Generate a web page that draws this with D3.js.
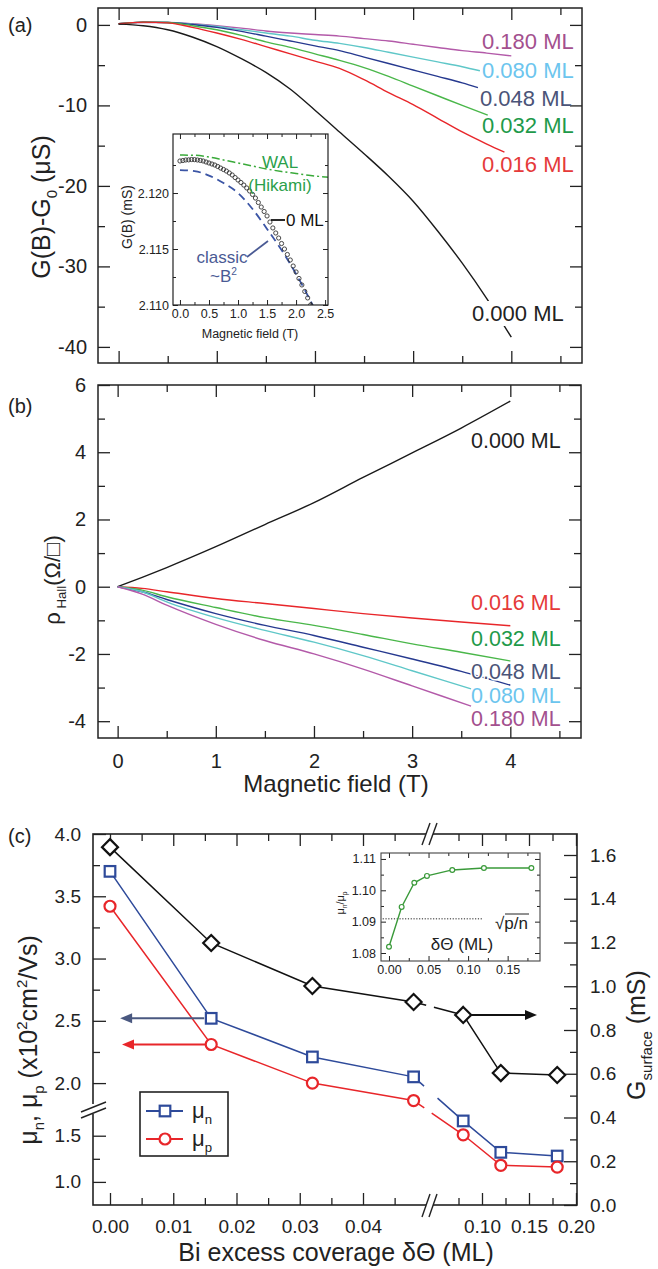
<!DOCTYPE html>
<html><head><meta charset="utf-8">
<script src="https://cdn.jsdelivr.net/npm/d3@7/dist/d3.min.js"></script>
<style>
html,body{margin:0;padding:0;background:#fff;}
svg{display:block;}
</style></head>
<body>
<svg id="fig" width="658" height="1269" xmlns="http://www.w3.org/2000/svg"></svg>
<script>
// ================= DATA =================
// Panel (a): G(B)-G0 (uS) vs magnetic field (T), one pair of arrays per coverage
const fieldA000 = [0,0.25,0.5,0.75,1,1.25,1.5,1.75,2,2.25,2.5,2.75,3,3.25,3.5,3.75,4.0];
const condA000  = [0.1,-0.1,-0.6,-1.5,-2.7,-4.2,-5.9,-8.0,-10.6,-13.3,-16.0,-18.8,-21.9,-25.6,-29.6,-34.0,-38.8];
const fieldA016 = [0,0.25,0.5,0.75,1,1.25,1.5,1.75,2,2.25,2.5,2.75,3,3.25,3.5,3.75,3.93];
const condA016  = [0.15,0.35,0.25,-0.3,-1.0,-1.8,-2.7,-3.6,-4.5,-5.4,-6.8,-8.4,-9.9,-11.6,-13.3,-14.8,-15.8];
const fieldA032 = [0,0.25,0.5,0.75,1,1.25,1.5,1.75,2,2.25,2.5,2.75,3,3.25,3.5,3.76];
const condA032  = [0.15,0.35,0.3,-0.1,-0.6,-1.3,-2.1,-2.8,-3.6,-4.4,-5.3,-6.4,-7.6,-8.8,-10.0,-11.2];
const fieldA048 = [0,0.25,0.5,0.75,1,1.25,1.5,1.75,2,2.25,2.5,2.75,3,3.25,3.5,3.66];
const condA048  = [0.15,0.35,0.3,0.05,-0.3,-0.8,-1.4,-2.0,-2.6,-3.2,-4.0,-4.8,-5.6,-6.4,-7.2,-7.8];
const fieldA080 = [0,0.25,0.5,0.75,1,1.25,1.5,1.75,2,2.25,2.5,2.75,3,3.25,3.5,3.68];
const condA080  = [0.15,0.35,0.3,0.1,-0.2,-0.6,-1.0,-1.4,-1.9,-2.3,-2.8,-3.4,-4.0,-4.6,-5.2,-5.7];
const fieldA180 = [0,0.25,0.5,0.75,1,1.25,1.5,1.75,2,2.25,2.5,2.75,3,3.25,3.5,3.75,4.0];
const condA180  = [0.15,0.3,0.3,0.15,-0.1,-0.4,-0.75,-1.0,-1.2,-1.4,-1.7,-2.0,-2.4,-2.8,-3.2,-3.5,-3.85];
const coverageLabels = ["0.000 ML","0.016 ML","0.032 ML","0.048 ML","0.080 ML","0.180 ML"];
const yTicksA = [0,-10,-20,-30,-40];
const yMinorA = [-5,-15,-25,-35];

// Inset of (a): G(B) (mS) for 0 ML, WAL (Hikami) fit and classic ~B^2
const insetField = [0,0.05,0.1,0.15,0.2,0.25,0.3,0.35,0.4,0.45,0.5,0.55,0.6,0.65,0.7,0.75,0.8,0.85,0.9,0.95,1.0,1.05,1.1,1.15,1.2,1.25,1.3,1.35,1.4,1.45,1.5,1.55,1.6,1.65,1.7,1.75,1.8,1.85,1.9,1.95,2.0,2.05,2.1,2.15,2.2,2.25];
const insetG = [2.12286,2.12290,2.12295,2.12296,2.12299,2.12298,2.12295,2.12291,2.12286,2.12277,2.12268,2.12259,2.12250,2.12237,2.12223,2.12210,2.12196,2.12179,2.12161,2.12138,2.12116,2.12094,2.12071,2.12045,2.12018,2.11987,2.11955,2.11915,2.11875,2.11835,2.11795,2.11741,2.11688,2.11643,2.11598,2.11549,2.11500,2.11451,2.11402,2.11348,2.11295,2.11237,2.11179,2.11121,2.11063,2.11000];
const walField = [0,0.25,0.5,0.75,1.0,1.25,1.5,1.75,2.0,2.25,2.5,2.55];
const walG = [2.12339,2.12337,2.12321,2.12295,2.12268,2.12241,2.12214,2.12192,2.12174,2.12156,2.12143,2.12140];
const classicField = [0,0.25,0.5,0.75,1.0,1.25,1.5,1.75,2.0,2.25,2.3];
const classicG = [2.12205,2.12196,2.12156,2.12089,2.12000,2.11857,2.11679,2.11491,2.11277,2.11036,2.10985];
const insetYTicks = [2.110,2.115,2.120];
const insetYMinor = [2.1125,2.1175,2.1225];
const insetXTicks = [0,0.5,1.0,1.5,2.0,2.5];
const insetXMinor = [0.25,0.75,1.25,1.75,2.25];

// Panel (b): Hall resistivity (Ohm/sq) vs field (T)
const fieldB = [0,0.25,0.5,1,1.5,2,2.5,3,3.5,4];
const hallB000 = [0,0.28,0.57,1.19,1.85,2.5,3.25,3.98,4.72,5.52];
const hallB016 = [0,-0.05,-0.15,-0.35,-0.5,-0.65,-0.8,-0.93,-1.05,-1.16];
const hallB032 = [0,-0.1,-0.3,-0.62,-0.92,-1.15,-1.42,-1.7,-1.95,-2.21];
const hallB048 = [0,-0.15,-0.38,-0.8,-1.15,-1.45,-1.8,-2.15,-2.52,-2.93];
const fieldBshort = [0,0.25,0.5,1,1.5,2,2.5,3,3.6];
const hallB080 = [0,-0.15,-0.45,-0.92,-1.3,-1.65,-2.05,-2.5,-3.04];
const hallB180 = [0,-0.22,-0.55,-1.12,-1.6,-2.0,-2.45,-2.95,-3.55];
const yTicksB = [-4,-2,0,2,4,6];
const yMinorB = [-3,-1,1,3,5];
const xTicksB = [0,1,2,3,4];
const xMinorB = [0.5,1.5,2.5,3.5,4.5];

// Panel (c): mobilities and surface conductance vs Bi excess coverage (ML)
const coverageC = [0,0.016,0.032,0.048,0.08,0.12,0.18];
const gSurface = [1.636,1.198,1.001,0.928,0.869,0.603,0.594];
const muN = [3.70,2.52,2.21,2.05,1.66,1.32,1.28];
const muP = [3.42,2.31,2.00,1.86,1.51,1.18,1.16];
const ratioNP = [1.082,1.0947,1.1024,1.1046,1.1065,1.1071,1.1071];
const sqrtPN = 1.0909;
const yTicksCL = [1.0,1.5,2.0,2.5,3.0,3.5,4.0];
const yMinorCL = [1.25,2.25,2.75,3.25,3.75];
const yTicksCR = [0,0.2,0.4,0.6,0.8,1.0,1.2,1.4,1.6];
const yMinorCR = [0.1,0.3,0.5,0.7,0.9,1.1,1.3,1.5];
const xTicksCL = [0,0.01,0.02,0.03,0.04];
const xMinorCL = [0.005,0.015,0.025,0.035,0.045];
const xTicksCR = [0.10,0.15,0.20];
const xMinorCR = [0.075,0.125,0.175];
const insetCYTicks = [1.08,1.09,1.10,1.11];
const insetCYMinor = [1.085,1.095,1.105];
const insetCXTicks = [0,0.05,0.10,0.15];
const insetCXMinor = [0.025,0.075,0.125,0.175];

// ================= DRAWING =================
const FONT = '"Liberation Sans", Arial, Helvetica, sans-serif';
const INK = "#222";
const svg = d3.select("#fig");
svg.append("rect").attr("width",658).attr("height",1269).attr("fill","#fff");

function mkAxis(parent, gen, tx, ty, fs){
  const g = parent.append("g").attr("transform",`translate(${tx},${ty})`).call(gen);
  g.select(".domain").remove();
  g.selectAll(".tick line").attr("stroke",INK).attr("stroke-width",1.3);
  g.selectAll(".tick text").attr("font-size",fs).attr("font-family",FONT).attr("fill",INK);
  return g;
}
function rich(t, parts, fs){
  let cur = 0;
  parts.forEach(([s,m])=>{
    const target = m==='sub' ? fs*0.28 : (m==='sup' ? -fs*0.42 : 0);
    t.append("tspan").text(s).attr("font-size", m==='n'?fs:fs*0.6).attr("dy", target-cur);
    cur = target;
  });
}
function txt(parent, x, y, s, fs, fill, anchor){
  return parent.append("text").attr("x",x).attr("y",y).text(s)
    .attr("font-family",FONT).attr("font-size",fs).attr("fill",fill||INK)
    .attr("text-anchor",anchor||"start");
}
const fmtPlain = d => String(d);

// ---------- Panel (a) ----------
const xA = d3.scaleLinear().domain([-0.21,4.72]).range([98,582]);
const yA = d3.scaleLinear().domain([-42,2.1]).range([363,8]);
const pA = svg.append("g");
const lineA = d3.line().x(d=>xA(d[0])).y(d=>yA(d[1])).curve(d3.curveMonotoneX);
const seriesA = [
  [fieldA180,condA180,"#b35aa9"],
  [fieldA080,condA080,"#5fc7c8"],
  [fieldA048,condA048,"#26398f"],
  [fieldA032,condA032,"#4ab74a"],
  [fieldA016,condA016,"#e8262a"],
  [fieldA000,condA000,"#1a1a1a"]
];
seriesA.forEach(([f,v,c])=>{
  pA.append("path").datum(d3.zip(f,v)).attr("d",lineA).attr("fill","none").attr("stroke",c).attr("stroke-width",1.4);
});
mkAxis(pA, d3.axisLeft(yA).tickValues(yTicksA).tickSize(-12).tickPadding(11).tickFormat(fmtPlain), 98,0,20);
mkAxis(pA, d3.axisLeft(yA).tickValues(yMinorA).tickSize(-7).tickFormat(""), 98,0,20);
mkAxis(pA, d3.axisRight(yA).tickValues(yTicksA).tickSize(-12).tickFormat(""), 582,0,20);
mkAxis(pA, d3.axisRight(yA).tickValues(yMinorA).tickSize(-7).tickFormat(""), 582,0,20);
mkAxis(pA, d3.axisTop(xA).tickValues(xTicksB).tickSize(-12).tickFormat(""), 0,8,20);
mkAxis(pA, d3.axisTop(xA).tickValues(xMinorB).tickSize(-7).tickFormat(""), 0,8,20);
mkAxis(pA, d3.axisBottom(xA).tickValues(xTicksB).tickSize(-12).tickFormat(""), 0,363,20);
mkAxis(pA, d3.axisBottom(xA).tickValues(xMinorB).tickSize(-7).tickFormat(""), 0,363,20);
pA.append("rect").attr("x",98).attr("y",8).attr("width",484).attr("height",355).attr("fill","none").attr("stroke",INK).attr("stroke-width",1.5);
txt(pA,8,32,"(a)",20);
{
  const t = pA.append("text").attr("transform","translate(50,207) rotate(-90)").attr("text-anchor","middle")
    .attr("font-family",FONT).attr("fill",INK).attr("font-size",25);
  rich(t,[["G(B)-G","n"],["0","sub"],[" (μS)","n"]],25);
}
const labA = [
  [coverageLabels[5],482,49,"#a3508e"],
  [coverageLabels[4],482,78,"#6cc5ee"],
  [coverageLabels[3],480,106,"#4b5478"],
  [coverageLabels[2],482,133,"#1e9a4a"],
  [coverageLabels[1],482,172,"#e53a3a"],
  [coverageLabels[0],472,321,"#222"]
];
labA.forEach(([s,x,y,c],i)=>{
  const t = txt(pA,x,y,s,22,c);
  if(i===5){
    const bb = t.node().getBBox();
    pA.insert("rect", function(){return t.node();}).attr("x",bb.x-2).attr("y",bb.y).attr("width",bb.width+4).attr("height",bb.height).attr("fill","#fff");
  }
});

// ---------- Inset of (a) ----------
const xI = d3.scaleLinear().domain([-0.12,2.55]).range([173,328]);
const yI = d3.scaleLinear().domain([2.110,2.12527]).range([305,134]);
const pI = svg.append("g");
pI.append("rect").attr("x",173).attr("y",134).attr("width",155).attr("height",171).attr("fill","#fff");
svg.append("clipPath").attr("id","clipI").append("rect").attr("x",173).attr("y",134).attr("width",155).attr("height",171);
const gIc = pI.append("g").attr("clip-path","url(#clipI)");
const lineI = d3.line().x(d=>xI(d[0])).y(d=>yI(d[1])).curve(d3.curveMonotoneX);
gIc.append("path").datum(d3.zip(classicField,classicG)).attr("d",lineI).attr("fill","none")
  .attr("stroke","#3b55a5").attr("stroke-width",1.8).attr("stroke-dasharray","8,5");
gIc.append("path").datum(d3.zip(walField,walG)).attr("d",lineI).attr("fill","none")
  .attr("stroke","#3aaa3a").attr("stroke-width",1.5).attr("stroke-dasharray","8,3,2,3");
gIc.selectAll("circle.d").data(d3.zip(insetField,insetG)).enter().append("circle")
  .attr("cx",d=>xI(d[0])).attr("cy",d=>yI(d[1])).attr("r",2.1)
  .attr("fill","none").attr("stroke","#333").attr("stroke-width",0.9);
const f3 = d3.format(".3f"), f1 = d3.format(".1f");
mkAxis(pI, d3.axisLeft(yI).tickValues(insetYTicks).tickSize(-5).tickPadding(4).tickFormat(f3), 173,0,12.5);
mkAxis(pI, d3.axisLeft(yI).tickValues(insetYMinor).tickSize(-3).tickFormat(""), 173,0,12);
mkAxis(pI, d3.axisRight(yI).tickValues(insetYTicks).tickSize(-5).tickFormat(""), 328,0,12);
mkAxis(pI, d3.axisRight(yI).tickValues(insetYMinor).tickSize(-3).tickFormat(""), 328,0,12);
mkAxis(pI, d3.axisBottom(xI).tickValues(insetXTicks).tickSize(-5).tickPadding(4).tickFormat(f1), 0,305,12.5);
mkAxis(pI, d3.axisBottom(xI).tickValues(insetXMinor).tickSize(-3).tickFormat(""), 0,305,12);
mkAxis(pI, d3.axisTop(xI).tickValues(insetXTicks).tickSize(-5).tickFormat(""), 0,134,12);
mkAxis(pI, d3.axisTop(xI).tickValues(insetXMinor).tickSize(-3).tickFormat(""), 0,134,12);
pI.selectAll("line").attr("stroke-width",1);
pI.append("rect").attr("x",173).attr("y",134).attr("width",155).attr("height",171).attr("fill","none").attr("stroke",INK).attr("stroke-width",1.2);
txt(pI,250,338,"Magnetic field (T)",12.5,INK,"middle");
pI.append("text").attr("transform","translate(132,217) rotate(-90)").attr("text-anchor","middle")
  .attr("font-family",FONT).attr("font-size",14).attr("fill",INK).text("G(B) (mS)");
txt(pI,280,168,"WAL",17,"#2aa04a","middle");
txt(pI,280,191,"(Hikami)",17,"#2aa04a","middle");
pI.append("line").attr("x1",271).attr("x2",285).attr("y1",220).attr("y2",220).attr("stroke","#111").attr("stroke-width",1.8);
txt(pI,286,226,"0 ML",17,"#111");
txt(pI,222,263,"classic",17,"#4a5a94","middle");
{
  const t = pI.append("text").attr("x",210).attr("y",282).attr("font-family",FONT).attr("fill","#4a5a94").attr("font-size",17);
  rich(t,[["~B","n"],["2","sup"]],17);
}
pI.append("line").attr("x1",247).attr("y1",257).attr("x2",268).attr("y2",241).attr("stroke","#4a5a94").attr("stroke-width",1.8);

// ---------- Panel (b) ----------
const xB = d3.scaleLinear().domain([-0.2,4.72]).range([98,581]);
const yB = d3.scaleLinear().domain([-4.5,6]).range([738,385]);
const pB = svg.append("g");
const lineB = d3.line().x(d=>xB(d[0])).y(d=>yB(d[1])).curve(d3.curveMonotoneX);
const seriesB = [
  [fieldB,hallB000,"#1a1a1a"],
  [fieldB,hallB016,"#e8262a"],
  [fieldB,hallB032,"#4ab74a"],
  [fieldB,hallB048,"#26398f"],
  [fieldBshort,hallB080,"#5fc7c8"],
  [fieldBshort,hallB180,"#b35aa9"]
];
seriesB.forEach(([f,v,c])=>{
  pB.append("path").datum(d3.zip(f,v)).attr("d",lineB).attr("fill","none").attr("stroke",c).attr("stroke-width",1.4);
});
mkAxis(pB, d3.axisLeft(yB).tickValues(yTicksB).tickSize(-12).tickPadding(12).tickFormat(fmtPlain), 98,0,20);
mkAxis(pB, d3.axisLeft(yB).tickValues(yMinorB).tickSize(-7).tickFormat(""), 98,0,20);
mkAxis(pB, d3.axisRight(yB).tickValues(yTicksB).tickSize(-12).tickFormat(""), 581,0,20);
mkAxis(pB, d3.axisRight(yB).tickValues(yMinorB).tickSize(-7).tickFormat(""), 581,0,20);
mkAxis(pB, d3.axisTop(xB).tickValues(xTicksB).tickSize(-12).tickFormat(""), 0,385,20);
mkAxis(pB, d3.axisTop(xB).tickValues(xMinorB).tickSize(-7).tickFormat(""), 0,385,20);
mkAxis(pB, d3.axisBottom(xB).tickValues(xTicksB).tickSize(-12).tickPadding(16).tickFormat(fmtPlain), 0,738,20);
mkAxis(pB, d3.axisBottom(xB).tickValues(xMinorB).tickSize(-7).tickFormat(""), 0,738,20);
pB.append("rect").attr("x",98).attr("y",385).attr("width",483).attr("height",353).attr("fill","none").attr("stroke",INK).attr("stroke-width",1.5);
txt(pB,8,413,"(b)",20);
txt(pB,336,792,"Magnetic field (T)",24,INK,"middle");
{
  const t = pB.append("text").attr("transform","translate(60,580) rotate(-90)").attr("text-anchor","middle")
    .attr("font-family",FONT).attr("fill",INK).attr("font-size",22);
  rich(t,[["ρ","n"],[" Hall","sub"],["(Ω/□)","n"]],22);
}
const labB = [
  [coverageLabels[0],471,448,"#222"],
  [coverageLabels[1],471,610,"#e53a3a"],
  [coverageLabels[2],471,646,"#1e9a4a"],
  [coverageLabels[3],471,679,"#4b5478"],
  [coverageLabels[4],471,703,"#6cc5ee"],
  [coverageLabels[5],471,726,"#a3508e"]
];
labB.forEach(([s,x,y,c])=>{
  txt(pB,x,y,s,21.5,c).attr("stroke","#fff").attr("stroke-width",3).attr("paint-order","stroke");
});

// ---------- Panel (c) ----------
const xcL = d3.scaleLinear().domain([0,0.04]).range([110,363]);
const xcR = d3.scaleLinear().domain([0.10,0.20]).range([482,576]);
const xc = v => v < 0.06 ? xcL(v) : xcR(v);
const ycL = d3.scaleLinear().domain([0.75,1.8,4.0]).range([1205,1108,834]);
const ycR = d3.scaleLinear().domain([0,1.6]).range([1205,855]);
const pC = svg.append("g");
const f2 = d3.format(".2f");
mkAxis(pC, d3.axisLeft(ycL).tickValues(yTicksCL).tickSize(-13).tickPadding(12).tickFormat(f1), 93,0,19);
mkAxis(pC, d3.axisLeft(ycL).tickValues(yMinorCL).tickSize(-7).tickFormat(""), 93,0,19);
mkAxis(pC, d3.axisRight(ycR).tickValues(yTicksCR).tickSize(-13).tickPadding(13).tickFormat(f1), 577,0,19);
mkAxis(pC, d3.axisRight(ycR).tickValues(yMinorCR).tickSize(-7).tickFormat(""), 577,0,19);
mkAxis(pC, d3.axisBottom(xcL).tickValues(xTicksCL).tickSize(-12).tickPadding(15).tickFormat(f2), 0,1205,19);
mkAxis(pC, d3.axisBottom(xcL).tickValues(xMinorCL).tickSize(-7).tickFormat(""), 0,1205,19);
mkAxis(pC, d3.axisBottom(xcR).tickValues(xTicksCR).tickSize(-12).tickPadding(15).tickFormat(f2), 0,1205,19);
mkAxis(pC, d3.axisBottom(xcR).tickValues(xMinorCR).tickSize(-7).tickFormat(""), 0,1205,19);
mkAxis(pC, d3.axisTop(xcL).tickValues(xTicksCL).tickSize(-12).tickFormat(""), 0,834,19);
mkAxis(pC, d3.axisTop(xcL).tickValues(xMinorCL).tickSize(-7).tickFormat(""), 0,834,19);
mkAxis(pC, d3.axisTop(xcR).tickValues(xTicksCR).tickSize(-12).tickFormat(""), 0,834,19);
mkAxis(pC, d3.axisTop(xcR).tickValues(xMinorCR).tickSize(-7).tickFormat(""), 0,834,19);
pC.append("rect").attr("x",93).attr("y",834).attr("width",484).attr("height",371).attr("fill","none").attr("stroke",INK).attr("stroke-width",1.6);
function brk(x1,y1,x2,y2,dx,dy,wx,wy,ww,wh){
  pC.append("rect").attr("x",wx).attr("y",wy).attr("width",ww).attr("height",wh).attr("fill","#fff");
  [0,1].forEach(k=>pC.append("line").attr("x1",x1+k*dx).attr("y1",y1+k*dy).attr("x2",x2+k*dx).attr("y2",y2+k*dy)
    .attr("stroke",INK).attr("stroke-width",1.4));
}
brk(422,845,430,823,7,0,426,831,7,6);
brk(422,1217,430,1194,7,0,426,1202,7,6);
brk(81,1118,106,1108,0,-6,90,1104,6,10);

// inset of (c)
const xIC = d3.scaleLinear().domain([-0.0101,0.1909]).range([381,540]);
const yIC = d3.scaleLinear().domain([1.07745,1.1119]).range([961,853]);
const pIC = svg.append("g");
pIC.append("rect").attr("x",381).attr("y",853).attr("width",159).attr("height",108).attr("fill","#fff");
mkAxis(pIC, d3.axisLeft(yIC).tickValues(insetCYTicks).tickSize(-5).tickPadding(5).tickFormat(f2), 381,0,12.5);
mkAxis(pIC, d3.axisLeft(yIC).tickValues(insetCYMinor).tickSize(-3).tickFormat(""), 381,0,12);
mkAxis(pIC, d3.axisRight(yIC).tickValues(insetCYTicks).tickSize(-5).tickFormat(""), 540,0,12);
mkAxis(pIC, d3.axisRight(yIC).tickValues(insetCYMinor).tickSize(-3).tickFormat(""), 540,0,12);
mkAxis(pIC, d3.axisBottom(xIC).tickValues(insetCXTicks).tickSize(-5).tickPadding(4).tickFormat(f2), 0,961,12.5);
mkAxis(pIC, d3.axisBottom(xIC).tickValues(insetCXMinor).tickSize(-3).tickFormat(""), 0,961,12);
mkAxis(pIC, d3.axisTop(xIC).tickValues(insetCXTicks).tickSize(-5).tickFormat(""), 0,853,12);
mkAxis(pIC, d3.axisTop(xIC).tickValues(insetCXMinor).tickSize(-3).tickFormat(""), 0,853,12);
pIC.selectAll("line").attr("stroke-width",1);
pIC.append("line").attr("x1",xIC(-0.008)).attr("x2",xIC(0.118)).attr("y1",yIC(sqrtPN)).attr("y2",yIC(sqrtPN))
  .attr("stroke","#222").attr("stroke-width",1).attr("stroke-dasharray","1.2,1.6");
const ratioPts = d3.zip(coverageC,ratioNP);
pIC.append("path").datum(ratioPts).attr("d",d3.line().x(d=>xIC(d[0])).y(d=>yIC(d[1])))
  .attr("fill","none").attr("stroke","#3a9a3a").attr("stroke-width",1.4);
pIC.selectAll("circle.r").data(ratioPts).enter().append("circle").attr("cx",d=>xIC(d[0])).attr("cy",d=>yIC(d[1]))
  .attr("r",2.4).attr("fill","#fff").attr("stroke","#3a9a3a").attr("stroke-width",1.2);
pIC.append("rect").attr("x",381).attr("y",853).attr("width",159).attr("height",108).attr("fill","none").attr("stroke","#444").attr("stroke-width",1.1);
txt(pIC,462,950,"δΘ (ML)",17,INK,"middle");
txt(pIC,495,929,"√p/n",17,INK);
pIC.append("line").attr("x1",505).attr("x2",529).attr("y1",914).attr("y2",914).attr("stroke",INK).attr("stroke-width",1);
{
  const t = pIC.append("text").attr("transform","translate(344,903) rotate(-90)").attr("text-anchor","middle")
    .attr("font-family",FONT).attr("fill",INK).attr("font-size",11);
  rich(t,[["μ","n"],["n","sub"],["/μ","n"],["p","sub"]],11);
}

function seriesC(vals, yS, color, dash, marker){
  const pts = d3.zip(coverageC, vals);
  const ln = d3.line().x(d=>xc(d[0])).y(d=>yS(d[1]));
  pC.append("path").datum(pts.slice(0,4)).attr("d",ln).attr("fill","none").attr("stroke",color).attr("stroke-width",1.5);
  pC.append("path").datum(pts.slice(3,5)).attr("d",ln).attr("fill","none").attr("stroke",color).attr("stroke-width",1.5).attr("stroke-dasharray",dash);
  pC.append("path").datum(pts.slice(4)).attr("d",ln).attr("fill","none").attr("stroke",color).attr("stroke-width",1.5);
  pts.forEach(d=>{
    const x = xc(d[0]), y = yS(d[1]);
    if(marker==="diamond") pC.append("path").attr("d",`M${x},${y-8}L${x+8},${y}L${x},${y+8}L${x-8},${y}Z`).attr("fill","#fff").attr("stroke","#111").attr("stroke-width",2.2);
    else if(marker==="square") pC.append("rect").attr("x",x-5.3).attr("y",y-5.3).attr("width",10.6).attr("height",10.6).attr("fill","#fff").attr("stroke",color).attr("stroke-width",2.2);
    else pC.append("circle").attr("cx",x).attr("cy",y).attr("r",5.5).attr("fill","#fff").attr("stroke",color).attr("stroke-width",2.2);
  });
}
function arrow(x1,x2,y,color){
  const dir = Math.sign(x2-x1);
  pC.append("line").attr("x1",x1).attr("x2",x2-dir*10).attr("y1",y).attr("y2",y).attr("stroke",color).attr("stroke-width",2);
  pC.append("path").attr("d",`M${x2},${y}L${x2-dir*12},${y-5}L${x2-dir*12},${y+5}Z`).attr("fill",color);
}
seriesC(gSurface, ycR, "#111", "13,8,200", "diamond");
seriesC(muN, ycL, "#2e4a9a", "14,18,200", "square");
seriesC(muP, ycL, "#e8262a", "13,9,200", "circle");
arrow(xc(coverageC[1])-7, xc(0.0016), ycL(muN[1]), "#4a5880");
arrow(xc(coverageC[1])-6, xc(0.0019), ycL(muP[1]), "#e8262a");
arrow(xc(coverageC[4])+8, xc(0.1585), ycR(gSurface[4]), "#111");

pC.append("rect").attr("x",140).attr("y",1092).attr("width",88).attr("height",64).attr("fill","#fff").attr("stroke",INK).attr("stroke-width",1.6);
[["n","#2e4a9a",1111,"square"],["p","#e8262a",1139,"circle"]].forEach(([s,c,y,m])=>{
  pC.append("line").attr("x1",146).attr("x2",183).attr("y1",y).attr("y2",y).attr("stroke",c).attr("stroke-width",2);
  if(m==="square") pC.append("rect").attr("x",159.7).attr("y",y-5.3).attr("width",10.6).attr("height",10.6).attr("fill","#fff").attr("stroke",c).attr("stroke-width",2.2);
  else pC.append("circle").attr("cx",165).attr("cy",y).attr("r",5.5).attr("fill","#fff").attr("stroke",c).attr("stroke-width",2.2);
  const t = pC.append("text").attr("x",192).attr("y",y+7).attr("font-family",FONT).attr("font-size",22).attr("fill",INK);
  rich(t,[["μ","n"],[s,"sub"]],22);
});

txt(pC,8,843,"(c)",20);
txt(pC,336,1261,"Bi excess coverage δΘ (ML)",25,INK,"middle");
{
  const t = pC.append("text").attr("transform","translate(37,1040) rotate(-90)").attr("text-anchor","middle")
    .attr("font-family",FONT).attr("fill",INK).attr("font-size",25);
  rich(t,[["μ","n"],["n","sub"],[", μ","n"],["p","sub"],[" (x10","n"],["2","sup"],["cm","n"],["2","sup"],["/Vs)","n"]],25);
}
{
  const t = pC.append("text").attr("transform","translate(645,1035) rotate(-90)").attr("text-anchor","middle")
    .attr("font-family",FONT).attr("fill",INK).attr("font-size",25);
  rich(t,[["G","n"],["surface","sub"],[" (mS)","n"]],25);
}
</script>
</body></html>
